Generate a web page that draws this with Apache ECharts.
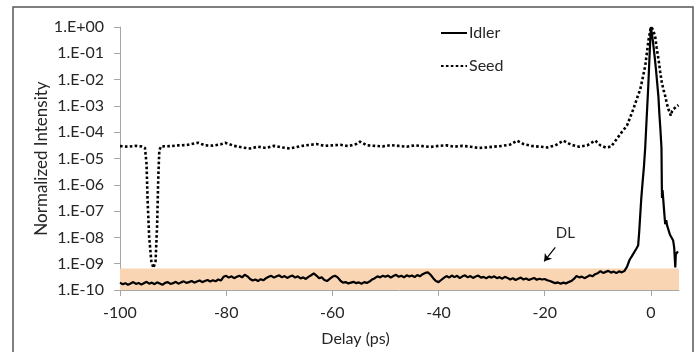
<!DOCTYPE html>
<html>
<head>
<meta charset="utf-8">
<script src="https://cdn.jsdelivr.net/npm/echarts@6/dist/echarts.min.js"></script>
<style>
  html, body { margin: 0; padding: 0; background: #fff; }
  #chart { width: 697px; height: 352px; }
</style>
</head>
<body>
<div id="chart"></div>
<script>
// Idler baseline: log10 intensity read every 0.5 ps starting at -100 ps
const idlerBaseStart = -100;
const idlerBaseStep = 0.5;
const idlerBaseLog = [
  -9.72,-9.78,-9.74,-9.80,-9.75,-9.70,-9.77,-9.73,-9.79,-9.74,-9.69,-9.76,-9.72,-9.78,-9.71,-9.75,-9.80,-9.73,-9.70,-9.77,
  -9.74,-9.69,-9.76,-9.71,-9.67,-9.73,-9.70,-9.66,-9.72,-9.68,-9.64,-9.70,-9.66,-9.62,-9.68,-9.63,-9.67,-9.60,-9.64,-9.50,
  -9.46,-9.53,-9.48,-9.55,-9.50,-9.46,-9.52,-9.42,-9.48,-9.58,-9.64,-9.60,-9.66,-9.59,-9.63,-9.55,-9.50,-9.46,-9.53,-9.48,
  -9.44,-9.52,-9.47,-9.54,-9.49,-9.45,-9.53,-9.48,-9.56,-9.52,-9.58,-9.50,-9.44,-9.37,-9.45,-9.55,-9.52,-9.62,-9.66,-9.58,
  -9.50,-9.46,-9.52,-9.64,-9.72,-9.70,-9.75,-9.72,-9.69,-9.74,-9.71,-9.76,-9.70,-9.73,-9.68,-9.60,-9.55,-9.48,-9.52,-9.46,
  -9.50,-9.45,-9.53,-9.47,-9.42,-9.50,-9.46,-9.52,-9.44,-9.49,-9.45,-9.51,-9.43,-9.48,-9.40,-9.35,-9.33,-9.42,-9.55,-9.66,
  -9.70,-9.62,-9.54,-9.47,-9.53,-9.45,-9.51,-9.46,-9.55,-9.48,-9.44,-9.52,-9.47,-9.54,-9.49,-9.45,-9.53,-9.50,-9.56,-9.49,
  -9.53,-9.48,-9.55,-9.51,-9.57,-9.50,-9.54,-9.60,-9.55,-9.62,-9.57,-9.53,-9.60,-9.56,-9.62,-9.58,-9.54,-9.61,-9.57,-9.60,
  -9.58,-9.63,-9.66,-9.70,-9.74,-9.71,-9.76,-9.72,-9.75,-9.70,-9.66,-9.58,-9.47,-9.52,-9.49,-9.55,-9.50,-9.44,-9.48,-9.40,
  -9.36,-9.28,-9.35,-9.31,-9.27,-9.34,-9.30,-9.36,-9.29,-9.33,-9.28,-9.12
];

// Idler peak region: delay (ps) and log10 intensity
const idlerPeakDelay = [-4.0,-3.6,-3.3,-2.8,-2.4,-2.2,-2.0,-1.8,-1.6,-1.3,-1.07,-0.8,-0.5,-0.25,0,0.3,0.7,1.0,1.43,1.6,1.8,2.0,2.07,2.1,2.2,2.5,2.7,2.9,3.07,3.6,4.2,4.4,4.6,4.7,5.1];
const idlerPeakLog   = [-8.85,-8.72,-8.65,-8.45,-8.31,-7.8,-7.14,-6.5,-6.0,-5.3,-4.6,-3.5,-2.3,-1.1,0,-0.4,-1.1,-1.7,-2.67,-3.3,-3.9,-4.6,-6.1,-6.5,-6.2,-7.0,-7.5,-7.35,-7.55,-7.9,-8.12,-8.4,-9.14,-8.64,-8.53];

// Seed: delay (ps) and log10 intensity
const seedDelay = [-100,-98.5,-97,-96,-95.3,-95.0,-94.8,-94.5,-94.1,-93.7,-93.3,-93.0,-92.8,-92.6,-92.3,-90.5,-89,-87.5,-85.3,-84,-82.5,-81,-80.2,-78.5,-77,-75.5,-74,-72.5,-71,-69.5,-68,-66.5,-65,-63,-61.5,-60,-58.5,-57,-55.5,-54.8,-53.5,-52,-50.5,-49,-47.5,-46,-44.5,-43,-41.5,-40,-38.5,-37,-35.5,-34,-32.5,-31,-29.5,-28,-26.5,-25.2,-24,-22.5,-21,-19.5,-18,-16.5,-15,-13.5,-12,-10.5,-9.5,-8.5,-7.5,-6.4,-5.5,-4.5,-3.3,-2.5,-2.0,-1.5,-1.07,-0.44,0,0.4,0.8,1.1,1.45,1.75,2.07,2.4,2.7,3.0,3.3,3.76,4.0,4.26,4.7,5.2];
const seedLog   = [-4.53,-4.55,-4.52,-4.54,-4.60,-5.2,-6.6,-8.0,-8.9,-9.16,-8.9,-7.5,-5.8,-4.7,-4.54,-4.53,-4.50,-4.49,-4.40,-4.50,-4.51,-4.46,-4.40,-4.52,-4.58,-4.62,-4.55,-4.60,-4.52,-4.58,-4.62,-4.55,-4.50,-4.45,-4.52,-4.50,-4.48,-4.53,-4.45,-4.36,-4.50,-4.52,-4.54,-4.49,-4.52,-4.55,-4.50,-4.53,-4.56,-4.52,-4.50,-4.55,-4.52,-4.55,-4.60,-4.58,-4.55,-4.52,-4.47,-4.32,-4.45,-4.52,-4.55,-4.58,-4.50,-4.32,-4.48,-4.55,-4.50,-4.32,-4.50,-4.58,-4.55,-4.25,-4.00,-3.75,-3.12,-2.65,-2.37,-1.9,-1.49,-0.49,0,-0.1,-0.35,-0.8,-1.24,-1.7,-2.12,-2.4,-2.62,-2.9,-3.12,-3.37,-3.2,-3.12,-3.05,-2.97];

// Axis and annotation values
const xTicks = [-100, -80, -60, -40, -20, 0];
const xRange = [-100, 5.3];
const yRange = [1e-10, 1];
const dlBand = [1e-10, 6.5e-10];
const dlArrow = [[-18.0, 4.2e-9], [-20.1, 1.23e-9]];
const dlLabel = [-16.1, 1.5e-8];

const font = 'Lato, "Open Sans", sans-serif';
const textColor = '#262626';
const axisGrey = '#a6a6a6';

// Build [delay, intensity] pairs
const idlerData = idlerBaseLog.map((v, i) => [idlerBaseStart + i * idlerBaseStep, Math.pow(10, v)])
  .concat(idlerPeakDelay.map((d, i) => [d, Math.pow(10, idlerPeakLog[i])]));
const seedData = seedDelay.map((d, i) => [d, Math.pow(10, seedLog[i])]);

const fmtExp = (v) => {
  const e = Math.round(Math.log10(v));
  return '1.E' + (e < 0 ? '-' : '+') + String(Math.abs(e)).padStart(2, '0');
};

const chart = echarts.init(document.getElementById('chart'));

const option = {
  animation: false,
  backgroundColor: '#fff',
  textStyle: { fontFamily: font, color: textColor },
  grid: { left: 120, right: 18, top: 27, bottom: 59 },
  legend: {
    orient: 'vertical',
    left: 435,
    top: 20,
    itemWidth: 26,
    itemHeight: 14,
    itemGap: 17,
    itemStyle: { opacity: 0 },
    textStyle: { fontFamily: font, fontSize: 16, color: textColor, padding: [0, 0, 0, -3] },
    data: ['Idler', 'Seed']
  },
  graphic: [
    {
      type: 'rect',
      shape: { x: 13, y: 7, width: 680, height: 360 },
      style: { fill: 'none', stroke: '#555', lineWidth: 1.5 },
      silent: true
    }
  ],
  xAxis: {
    type: 'value',
    min: xRange[0],
    max: xRange[1],
    interval: 20,
    name: 'Delay (ps)',
    nameLocation: 'middle',
    nameGap: 41,
    nameMoveOverlap: false,
    nameTextStyle: { fontFamily: font, fontSize: 16, color: textColor, padding: [0, 88, 0, 0] },
    axisLine: { onZero: false, lineStyle: { color: axisGrey, width: 1 } },
    axisTick: { customValues: xTicks, length: 6, lineStyle: { color: axisGrey } },
    axisLabel: { customValues: xTicks, margin: 15, fontFamily: font, fontSize: 16, color: textColor },
    splitLine: { show: false }
  },
  yAxis: {
    type: 'log',
    logBase: 10,
    min: yRange[0],
    max: yRange[1],
    interval: 1,
    name: 'Normalized Intensity',
    nameLocation: 'middle',
    nameGap: 70,
    nameMoveOverlap: false,
    nameTextStyle: { fontFamily: font, fontSize: 17, color: textColor },
    axisLine: { show: true, onZero: false, lineStyle: { color: axisGrey, width: 1 } },
    axisTick: { show: true, inside: false, length: 6, lineStyle: { color: axisGrey } },
    axisLabel: { margin: 16, fontFamily: font, fontSize: 16, color: textColor, formatter: fmtExp },
    splitLine: { show: false },
    minorTick: { show: false }
  },
  series: [
    {
      name: 'Idler',
      type: 'line',
      data: idlerData,
      symbol: 'none',
      z: 3,
      lineStyle: { color: '#000', width: 2.2 },
      itemStyle: { color: '#000' },
      markArea: {
        silent: true,
        itemStyle: { color: '#fad5b4' },
        data: [[{ xAxis: xRange[0], yAxis: dlBand[0] }, { xAxis: xRange[1], yAxis: dlBand[1] }]]
      },
      markLine: {
        silent: true,
        symbol: ['none', 'arrow'],
        symbolSize: 7,
        label: { show: false },
        lineStyle: { color: '#000', width: 1.2, type: 'solid' },
        data: [[{ coord: dlArrow[0] }, { coord: dlArrow[1] }]]
      },
      markPoint: {
        silent: true,
        symbol: 'circle',
        symbolSize: 0,
        label: { show: true, formatter: 'DL', fontFamily: font, fontSize: 15, color: textColor, position: 'inside' },
        data: [{ coord: dlLabel }]
      }
    },
    {
      name: 'Seed',
      type: 'line',
      data: seedData,
      symbol: 'none',
      z: 2,
      lineStyle: { color: '#000', width: 2.6, type: [2.6, 2.3], cap: 'butt' },
      itemStyle: { color: '#000' }
    }
  ]
};

chart.setOption(option);
</script>
</body>
</html>
